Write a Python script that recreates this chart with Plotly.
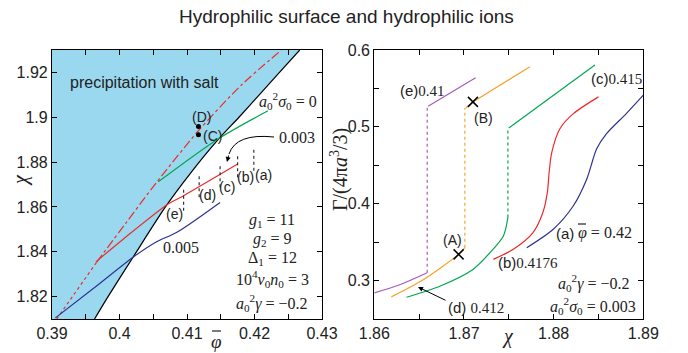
import plotly.graph_objects as go

# ---------------- data: left panel (phi_bar vs chi) ----------------
boundary_phi = [0.3963, 0.3983, 0.4021, 0.4068, 0.4105, 0.4146, 0.4177, 0.4207, 0.4237, 0.4267]
boundary_chi = [1.81, 1.82, 1.838, 1.86, 1.875, 1.89, 1.90, 1.91, 1.92, 1.93]

salt_dot_phi = [0.3907, 0.3966]
salt_dot_chi = [1.81, 1.8353]
salt_dd_phi = [0.3966, 0.401, 0.4055, 0.4117, 0.418, 0.424]
salt_dd_chi = [1.8353, 1.853, 1.871, 1.894, 1.9142, 1.93]

s0_phi = [0.40575, 0.4146, 0.4220]          # a0^2 sigma0 = 0
s0_chi = [1.8712, 1.8903, 1.9029]
s3_phi = [0.3965, 0.4005, 0.4072, 0.4095, 0.4175]   # 0.003
s3_chi = [1.8355, 1.8455, 1.8613, 1.865, 1.8791]
s5_phi = [0.3905, 0.3965, 0.4022, 0.4055, 0.4085, 0.4149]  # 0.005
s5_chi = [1.8105, 1.8245, 1.838, 1.8445, 1.8487, 1.862]

drop_labels = ["(a)", "(b)", "(c)", "(d)", "(e)"]
drop_phi = [0.4199, 0.4175, 0.4149, 0.4118, 0.4095]
drop_chi_lo = [1.8761, 1.8732, 1.8688, 1.8643, 1.8583]
drop_chi_hi = [1.8866, 1.8838, 1.8791, 1.8747, 1.8688]

pts_CD_phi = [0.4117, 0.4117]
pts_CD_chi = [1.8922, 1.8959]

# ---------------- data: right panel (chi vs Gamma) ----------------
e_lo_chi = [1.8600, 1.8629, 1.8659]
e_lo_g = [0.2840, 0.2949, 0.3102]
e_up_chi = [1.8660, 1.8713]
e_up_g = [0.5268, 0.5639]
e_jump_chi = 1.8659

d_lo_chi = [1.8619, 1.8655, 1.8694, 1.8701]
d_lo_g = [0.2788, 0.3014, 0.3341, 0.3428]
d_up_chi = [1.8702, 1.8710, 1.87736]
d_up_g = [0.5246, 0.5325, 0.5782]
d_jump_chi = 1.8701

c_lo_chi = [1.8636, 1.8673, 1.8710, 1.8729, 1.8744, 1.8749]
c_lo_g = [0.2783, 0.2927, 0.3145, 0.3363, 0.3581, 0.3821]
c_up_chi = [1.8750, 1.8846]
c_up_g = [0.4985, 0.5804]
c_jump_chi = 1.8749

b_chi = [1.87327, 1.8755, 1.8777, 1.8788, 1.8793, 1.8795, 1.8798, 1.8807, 1.8822, 1.8850]
b_g = [0.3276, 0.3407, 0.3625, 0.3886, 0.4148, 0.4409, 0.4671, 0.4976, 0.5172, 0.5390]

a_chi = [1.8770, 1.87996, 1.8822, 1.8837, 1.8848, 1.8859, 1.8881, 1.8900]
a_g = [0.3428, 0.3668, 0.3973, 0.4322, 0.4714, 0.4911, 0.5172, 0.5412]

AB_chi = [1.8694, 1.8710]
AB_g = [0.3341, 0.5325]

x1_ticks = [0.39, 0.395, 0.40, 0.405, 0.41, 0.415, 0.42, 0.425, 0.43]
x1_text = ["0.39", "", "0.4", "", "0.41", "", "0.42", "", "0.43"]
y1_ticks = [1.82, 1.84, 1.86, 1.88, 1.90, 1.92]
y1_text = ["1.82", "1.84", "1.86", "1.88", "1.9", "1.92"]
x2_ticks = [1.86, 1.865, 1.87, 1.875, 1.88, 1.885, 1.89]
x2_text = ["1.86", "", "1.87", "", "1.88", "", "1.89"]
y2_ticks = [0.3, 0.35, 0.4, 0.45, 0.5, 0.55, 0.6]
y2_text = ["0.3", "", "0.4", "", "0.5", "", "0.6"]

# ---------------- styles ----------------
W, H = 688, 353
SANS = "Liberation Sans"
SERIF = "Liberation Serif"
BLUEFILL = "#9ad8ef"
GREEN = "#00a651"
RED = "#ee2a2a"
BLUE = "#2e3192"
PURPLE = "#a45cbb"
ORANGE = "#f7a22b"
LW = 1.2


def P(x, y):
    return x / W, 1 - y / H


fig = go.Figure()


def line(x, y, color, dash="solid", width=LW, xa="x", ya="y", shape="linear"):
    fig.add_trace(go.Scatter(x=x, y=y, mode="lines", xaxis=xa, yaxis=ya,
                             line=dict(color=color, dash=dash, width=width, shape=shape,
                                       smoothing=0.8),
                             showlegend=False, hoverinfo="skip"))


# left panel
fig.add_trace(go.Scatter(x=[0.39] + boundary_phi + [0.39], y=[1.81] + boundary_chi + [1.93],
                         fill="toself", fillcolor=BLUEFILL, mode="lines", line=dict(width=0),
                         showlegend=False, hoverinfo="skip"))
line(boundary_phi, boundary_chi, "black", width=1.2, shape="spline")
line(salt_dot_phi, salt_dot_chi, RED, dash="dot")
line(salt_dd_phi, salt_dd_chi, RED, dash="dashdot", shape="spline")
line(s0_phi, s0_chi, GREEN, shape="spline")
line(s3_phi, s3_chi, RED, shape="spline")
line(s5_phi, s5_chi, BLUE, shape="spline")
for i in range(len(drop_phi)):
    line([drop_phi[i], drop_phi[i]], [drop_chi_lo[i], drop_chi_hi[i]], "#222", dash="dot", width=1.1)
fig.add_trace(go.Scatter(x=pts_CD_phi, y=pts_CD_chi, mode="markers",
                         marker=dict(color="black", size=5), showlegend=False, hoverinfo="skip"))

# right panel
for lo_x, lo_y, up_x, up_y, jx, col in [
    (e_lo_chi, e_lo_g, e_up_chi, e_up_g, e_jump_chi, PURPLE),
    (d_lo_chi, d_lo_g, d_up_chi, d_up_g, d_jump_chi, ORANGE),
    (c_lo_chi, c_lo_g, c_up_chi, c_up_g, c_jump_chi, GREEN),
]:
    line(lo_x, lo_y, col, xa="x2", ya="y2", shape="spline")
    line([jx, jx], [lo_y[-1], up_y[0]], col, dash="dot", xa="x2", ya="y2")
    line(up_x, up_y, col, xa="x2", ya="y2")
line(b_chi, b_g, RED, xa="x2", ya="y2", shape="spline")
line(a_chi, a_g, BLUE, xa="x2", ya="y2", shape="spline")
fig.add_trace(go.Scatter(x=AB_chi, y=AB_g, mode="markers", xaxis="x2", yaxis="y2",
                         marker=dict(symbol="x-thin", size=10, line=dict(color="black", width=1.5)),
                         showlegend=False, hoverinfo="skip"))

axis_common = dict(showline=True, linecolor="black", linewidth=1.2, mirror="ticks",
                   ticks="inside", ticklen=5, tickcolor="black", tickwidth=1,
                   tickfont=dict(family=SANS, size=16, color="#222"),
                   showgrid=False, zeroline=False, automargin=False)
ydom = [1 - 319 / H, 1 - 50 / H]
fig.update_layout(
    width=W, height=H, autosize=False,
    margin=dict(l=0, r=0, t=0, b=0),
    paper_bgcolor="white", plot_bgcolor="white",
    xaxis=dict(domain=[52 / W, 322 / W], range=[0.39, 0.43], tickvals=x1_ticks, ticktext=x1_text,
               anchor="y", **axis_common),
    yaxis=dict(domain=ydom, range=[1.81, 1.93], tickvals=y1_ticks, ticktext=y1_text,
               anchor="x", **axis_common),
    xaxis2=dict(domain=[374.3 / W, 643.3 / W], range=[1.86, 1.89], tickvals=x2_ticks, ticktext=x2_text,
                anchor="y2", **axis_common),
    yaxis2=dict(domain=ydom, range=[0.25, 0.6], tickvals=y2_ticks, ticktext=y2_text,
                anchor="x2", **axis_common),
)

anns = []


def ann(x, y, text, size=15, family=SANS, xanchor="center", angle=0, color="#222"):
    px_, py_ = P(x, y)
    anns.append(dict(x=px_, y=py_, xref="paper", yref="paper", text=text, showarrow=False,
                     xanchor=xanchor, yanchor="middle", textangle=angle,
                     font=dict(family=family, size=size, color=color)))


def mix(label, math):
    return label + '<span style="font-family:' + SERIF + '">' + math + '</span>'


def arrow(tx_px, ty_px, sx_px, sy_px):
    tx, ty = P(tx_px, ty_px)
    anns.append(dict(x=tx, y=ty, ax=sx_px - tx_px, ay=sy_px - ty_px, xref="paper", yref="paper",
                     axref="pixel", ayref="pixel", text="", showarrow=True, arrowhead=2,
                     arrowsize=1, arrowwidth=1, arrowcolor="black"))


def bar(x0, x1, y):
    p0 = P(x0, y)
    p1 = P(x1, y)
    fig.add_shape(type="line", xref="paper", yref="paper", x0=p0[0], x1=p1[0], y0=p0[1], y1=p1[1],
                  line=dict(color="#222", width=1.2))


ann(346, 17, "Hydrophilic surface and hydrophilic ions", size=19)
# left panel texts
ann(144, 82, "precipitation with salt", size=16)
ann(288, 101, "<i>a</i><sub>0</sub><sup>2</sup><i>σ</i><sub>0</sub> = 0", size=16, family=SERIF)
ann(297, 137, "0.003", size=16, family=SERIF)
ann(181, 247, "0.005", size=16, family=SERIF)
ann(201, 117, "(D)", size=14)
ann(212, 136, "(C)", size=14)
for lab, (lx, ly) in zip(drop_labels, [(263, 175), (245, 177), (227, 187), (207, 195), (174, 214)]):
    ann(lx, ly, lab, size=14)
ann(272, 220, "<i>g</i><sub>1</sub> = 11", size=16, family=SERIF)
ann(272, 239, "<i>g</i><sub>2</sub> = 9", size=16, family=SERIF)
ann(272, 258, "Δ<sub>1</sub> = 12", size=16, family=SERIF)
ann(272, 279, "10<sup>4</sup><i>v</i><sub>0</sub><i>n</i><sub>0</sub> = 3", size=16, family=SERIF)
ann(272, 303, "<i>a</i><sub>0</sub><sup>2</sup><i>γ</i> = −0.2", size=16, family=SERIF)
ann(20, 180, "<i>χ</i>", size=20, family=SERIF, angle=-90)
ann(216, 341, "<i>φ</i>", size=19, family=SERIF)
bar(212, 221, 331)
# right panel texts
ann(422, 90, mix("(e)", "0.41"), size=15)
ann(616, 78, mix("(c)", "0.415"), size=15)
ann(576, 233, "(a)", size=15, xanchor="right")
ann(576, 233, "<i>φ</i> = 0.42", size=16, family=SERIF, xanchor="left")
bar(578, 586, 224)
ann(528, 262, mix("(b)", "0.4176"), size=15)
ann(476, 307, mix("(d) ", "0.412"), size=15)
ann(453, 240, "(A)", size=14)
ann(483, 118, "(B)", size=14)
ann(632, 283, "<i>a</i><sub>0</sub><sup>2</sup><i>γ</i> = −0.2", size=16, family=SERIF, xanchor="right")
ann(638, 306, "<i>a</i><sub>0</sub><sup>2</sup><i>σ</i><sub>0</sub> = 0.003", size=16, family=SERIF, xanchor="right")
ann(508, 336, "<i>χ</i>", size=20, family=SERIF)
ann(339, 170, "Γ/(4π<i>a</i><sup>3</sup>/3)", size=20, family=SERIF, angle=-90)

# arrows
arrow(418, 287, 447, 301)
arrow(227, 162, 229, 154)
fig.update_layout(annotations=anns)

a0 = P(274, 137)
a1 = P(236, 133)
a2 = P(229, 154)
fig.add_shape(type="path", xref="paper", yref="paper",
              path=f"M {a0[0]},{a0[1]} Q {a1[0]},{a1[1]} {a2[0]},{a2[1]}",
              line=dict(color="black", width=1))

fig.write_html("out.html")
